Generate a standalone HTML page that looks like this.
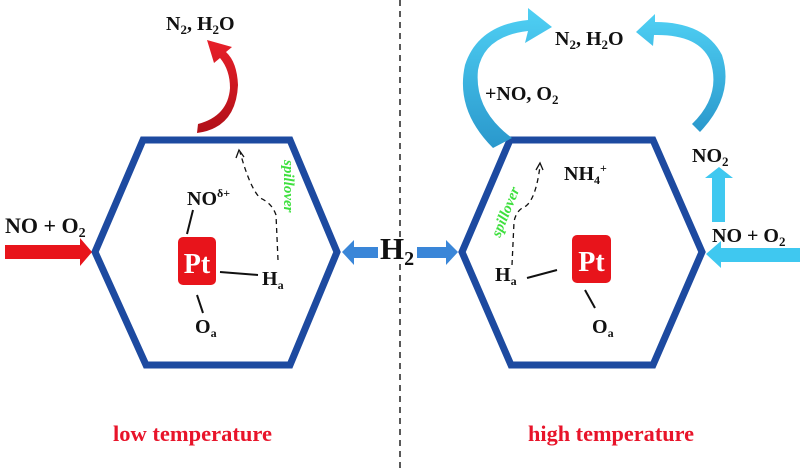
<!DOCTYPE html>
<html><head><meta charset="utf-8"><style>
html,body{margin:0;padding:0;background:#fff;}
svg{display:block;}
text{font-family:"Liberation Serif",serif;font-weight:bold;fill:#111;}
</style></head><body>
<svg width="800" height="470" viewBox="0 0 800 470" xmlns="http://www.w3.org/2000/svg">
<defs>
<linearGradient id="cy" x1="0" y1="0" x2="0" y2="1"><stop offset="0" stop-color="#4fd0f4"/><stop offset="1" stop-color="#2a98cc"/></linearGradient>
<linearGradient id="rd" x1="0" y1="0" x2="0" y2="1"><stop offset="0" stop-color="#e8202a"/><stop offset="1" stop-color="#b01018"/></linearGradient>
</defs>
<line x1="400" y1="0" x2="400" y2="470" stroke="#222" stroke-width="1.5" stroke-dasharray="6,5"/>
<polygon points="143,140 290,140 337,252 290,365 146,365 95,252" fill="none" stroke="#1d4aa0" stroke-width="7"/>
<polygon points="510,140 653,140 702,252 653,365 511,365 462,252" fill="none" stroke="#1d4aa0" stroke-width="7"/>
<polygon points="5,245 80,245 80,238 92,252 80,266 80,259 5,259" fill="#e8141b"/>
<text x="5" y="233" font-size="22">NO + O<tspan font-size="14" dy="4">2</tspan></text>
<text x="166" y="30" font-size="20">N<tspan font-size="13" dy="4">2</tspan><tspan dy="-4">, H</tspan><tspan font-size="13" dy="4">2</tspan><tspan dy="-4">O</tspan></text>
<path d="M197,133 Q236,128 238,85 Q237,62 226,52 L232,47 L207,40 L214,63 L220,58 Q230,70 230,88 Q228,116 198,124 Z" fill="url(#rd)"/>
<rect x="178" y="237" width="38" height="48" rx="5" fill="#e8141b"/>
<text x="197" y="273" font-size="28" text-anchor="middle" style="fill:#fff">Pt</text>
<text x="187" y="205" font-size="20">NO<tspan font-size="12" dy="-8">δ+</tspan></text>
<line x1="193" y1="210" x2="187" y2="234" stroke="#111" stroke-width="2"/>
<line x1="220" y1="272" x2="258" y2="275" stroke="#111" stroke-width="2"/>
<text x="262" y="285" font-size="20">H<tspan font-size="12" dy="4">a</tspan></text>
<line x1="197" y1="295" x2="203" y2="313" stroke="#111" stroke-width="2"/>
<text x="195" y="333" font-size="20">O<tspan font-size="12" dy="4">a</tspan></text>
<path d="M278,260 L276,215 Q272,203 260,198 Q250,188 240,152" fill="none" stroke="#111" stroke-width="1.3" stroke-dasharray="5,4"/>
<path d="M236,158 L239,150 L244,157" fill="none" stroke="#111" stroke-width="1.3"/>
<text transform="translate(284,160) rotate(90)" font-size="15" font-style="italic" style="fill:#3ee03e">spillover</text>
<polygon points="342,252 354,240 354,247 378,247 378,258 354,258 354,265" fill="#3a86d8"/>
<text x="380" y="259" font-size="31">H<tspan font-size="20" dy="6">2</tspan></text>
<polygon points="458,252 446,240 446,247 417,247 417,258 446,258 446,265" fill="#3a86d8"/>
<path d="M493,148 Q455,110 465,65 Q478,25 528,20 L528,8 L552,27 L525,43 L528,31 Q484,36 478,70 Q474,110 512,138 Z" fill="url(#cy)"/>
<path d="M700,132 Q735,95 722,55 Q705,22 655,22 L655,14 L636,32 L653,46 L654,35 Q698,34 710,60 Q722,95 692,124 Z" fill="url(#cy)"/>
<text x="555" y="45" font-size="20">N<tspan font-size="13" dy="4">2</tspan><tspan dy="-4">, H</tspan><tspan font-size="13" dy="4">2</tspan><tspan dy="-4">O</tspan></text>
<text x="485" y="100" font-size="20">+NO, O<tspan font-size="13" dy="4">2</tspan></text>
<text x="564" y="180" font-size="20">NH<tspan font-size="12" dy="4">4</tspan><tspan font-size="12" dy="-12">+</tspan></text>
<rect x="572" y="235" width="39" height="48" rx="5" fill="#e8141b"/>
<text x="591.5" y="271" font-size="28" text-anchor="middle" style="fill:#fff">Pt</text>
<text x="495" y="281" font-size="20">H<tspan font-size="12" dy="4">a</tspan></text>
<line x1="527" y1="278" x2="557" y2="270" stroke="#111" stroke-width="2"/>
<line x1="585" y1="290" x2="595" y2="308" stroke="#111" stroke-width="2"/>
<text x="592" y="333" font-size="20">O<tspan font-size="12" dy="4">a</tspan></text>
<path d="M512,265 L514,222 Q516,210 526,206 Q536,198 540,166" fill="none" stroke="#111" stroke-width="1.3" stroke-dasharray="5,4"/>
<path d="M536,170 L540,163 L543,170" fill="none" stroke="#111" stroke-width="1.3"/>
<text transform="translate(500,238) rotate(-68)" font-size="15" font-style="italic" style="fill:#3ee03e">spillover</text>
<text x="692" y="162" font-size="20">NO<tspan font-size="13" dy="4">2</tspan></text>
<polygon points="712,222 712,178 705,178 719,167 733,178 725,178 725,222" fill="#3fc8f0"/>
<text x="712" y="242" font-size="20">NO + O<tspan font-size="13" dy="4">2</tspan></text>
<polygon points="706,254 721,241 721,248 800,248 800,262 721,262 721,268" fill="#3fc8f0"/>
<text x="113" y="441" font-size="22" style="fill:#e8142a" textLength="159" lengthAdjust="spacingAndGlyphs">low temperature</text>
<text x="528" y="441" font-size="22" style="fill:#e8142a" textLength="166" lengthAdjust="spacingAndGlyphs">high temperature</text>
</svg>
</body></html>
